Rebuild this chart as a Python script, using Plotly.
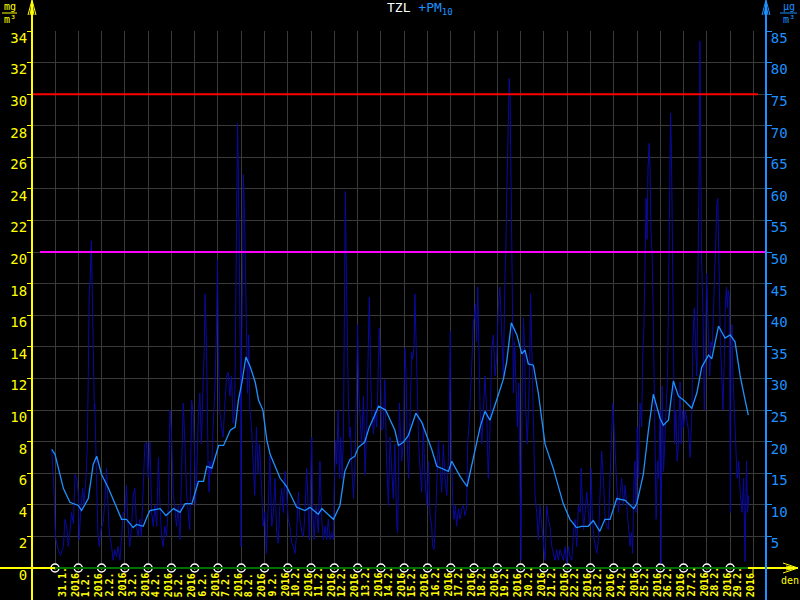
import plotly.graph_objects as go

# ---------------- data ----------------
# PM10 hourly-ish values (µg/m3), x = days since 31.1.2016 00:00
pm_days = [-0.14, -0.04, 0.0, 0.04, 0.14, 0.24, 0.36, 0.43, 0.5, 0.57, 0.64, 0.71, 0.79, 0.86, 0.93, 1.0, 1.04, 1.1, 1.19, 1.24, 1.33, 1.39, 1.43, 1.47, 1.51, 1.56, 1.6, 1.64, 1.69, 1.71, 1.75, 1.8, 1.84, 1.9, 1.97, 2.07, 2.14, 2.21, 2.26, 2.33, 2.43, 2.5, 2.57, 2.64, 2.71, 2.79, 2.86, 2.93, 3.0, 3.07, 3.14, 3.21, 3.29, 3.36, 3.43, 3.5, 3.57, 3.64, 3.71, 3.79, 3.86, 3.93, 4.0,
           4.08, 4.15, 4.22, 4.29, 4.37, 4.44, 4.51, 4.58, 4.65, 4.72, 4.79, 4.87, 4.94, 5.01, 5.08, 5.15, 5.22, 5.29, 5.37, 5.44, 5.51, 5.58, 5.65, 5.72, 5.79, 5.87, 5.94, 5.98, 6.04, 6.08, 6.15, 6.22, 6.29, 6.37, 6.41, 6.45, 6.51, 6.58, 6.62, 6.65, 6.72, 6.79, 6.87, 6.94, 6.98, 7.02, 7.08, 7.15, 7.22, 7.29, 7.37, 7.44, 7.51, 7.58, 7.65, 7.72, 7.77, 7.81, 7.84, 7.88, 7.91, 7.94, 7.97, 7.99, 8.02, 8.07, 8.09, 8.14, 8.18, 8.22, 8.27, 8.32, 8.37, 8.44, 8.51, 8.58, 8.65, 8.72, 8.79, 8.87, 8.94, 9.01, 9.08, 9.15,
           9.23, 9.31, 9.38, 9.45, 9.52, 9.59, 9.66, 9.74, 9.81, 9.88, 9.95, 10.02, 10.09, 10.17, 10.24, 10.31, 10.38, 10.45, 10.52, 10.6, 10.67, 10.74, 10.81, 10.88, 10.93, 10.98, 11.03, 11.07, 11.13, 11.21, 11.31, 11.38, 11.46, 11.53, 11.6, 11.67, 11.74, 11.81, 11.88, 11.96, 12.0, 12.06, 12.1, 12.16, 12.22, 12.27, 12.33, 12.39, 12.43, 12.47, 12.52, 12.56, 12.6, 12.65, 12.69, 12.74, 12.82, 12.89, 12.96, 13.0, 13.05, 13.1, 13.17, 13.25, 13.32, 13.39, 13.46, 13.5, 13.56, 13.6, 13.68, 13.75, 13.82, 13.89, 13.93, 13.99, 14.03, 14.1, 14.17, 14.24, 14.32,
           14.39, 14.46, 14.53, 14.6, 14.68, 14.72, 14.79, 14.85, 14.89, 14.96, 15.03, 15.08, 15.13, 15.19, 15.25, 15.32, 15.36, 15.42, 15.46, 15.51, 15.56, 15.62, 15.68, 15.75, 15.82, 15.89, 15.97, 16.04, 16.11, 16.18, 16.22, 16.28, 16.32, 16.4, 16.47, 16.54, 16.61, 16.68, 16.75, 16.83, 16.9, 16.94, 16.98, 17.03, 17.08, 17.14, 17.2, 17.25, 17.33, 17.4, 17.47, 17.54, 17.61, 17.68, 17.73, 17.78, 17.83, 17.9, 17.97, 18.01, 18.06, 18.11, 18.16, 18.2, 18.26, 18.33, 18.4, 18.47, 18.54, 18.61, 18.69, 18.76, 18.83, 18.9, 18.97, 19.04, 19.11, 19.19, 19.26, 19.33, 19.37, 19.4, 19.44, 19.49, 19.51,
           19.55, 19.6, 19.64, 19.69, 19.74, 19.8, 19.86, 19.92, 19.97, 20.02, 20.06, 20.12, 20.16, 20.22, 20.29, 20.38, 20.43, 20.48, 20.55, 20.62, 20.69, 20.76, 20.83, 20.91, 20.98, 21.05, 21.12, 21.19, 21.26, 21.34, 21.41, 21.48, 21.55, 21.62, 21.69, 21.77, 21.84, 21.91, 21.98, 22.05, 22.12, 22.2, 22.27, 22.34, 22.41, 22.48, 22.56, 22.6, 22.65, 22.7, 22.77, 22.84, 22.91, 22.98, 23.03, 23.08, 23.16, 23.21, 23.27, 23.34, 23.41, 23.48, 23.56, 23.63, 23.7, 23.77, 23.84, 23.91, 23.96, 24.01, 24.07, 24.13, 24.2, 24.27, 24.34, 24.42, 24.49, 24.56, 24.63,
           24.7, 24.77, 24.81, 24.87, 24.91, 24.96, 25.01, 25.06, 25.13, 25.2, 25.24, 25.3, 25.34, 25.39, 25.43, 25.47, 25.52, 25.56, 25.6, 25.65, 25.69, 25.73, 25.78, 25.82, 25.88, 25.93, 25.99, 26.03, 26.08, 26.14, 26.19, 26.25, 26.31, 26.35, 26.39, 26.44, 26.48, 26.52, 26.57, 26.61, 26.67, 26.72, 26.78, 26.85, 26.9, 26.95, 27.0, 27.07, 27.14, 27.21, 27.28, 27.36, 27.4, 27.46, 27.51, 27.57, 27.63, 27.67, 27.7, 27.73, 27.77, 27.83, 27.89, 27.95, 27.99, 28.03, 28.08, 28.12, 28.18, 28.23, 28.29, 28.35, 28.39, 28.43, 28.47, 28.52, 28.58, 28.64, 28.69, 28.75, 28.79, 28.84, 28.88, 28.92, 28.97, 29.01, 29.04, 29.08, 29.12, 29.18, 29.24, 29.3, 29.37, 29.44, 29.51, 29.58, 29.64, 29.7, 29.75, 29.8]
pm_vals = [18.8, 12, 6.6, 4.5, 2.9, 2.0, 3.4, 7.7, 6.6, 3.4, 5.6, 8.8, 7.0, 14.8, 14.2, 12, 4.5, 8.8, 12.6, 10, 14.2, 19.6, 30.4, 43.4, 45.6, 51.8, 44, 33, 25, 26, 18, 8.8, 5.6, 3.4, 6.1, 7.2, 10.4, 15.8, 10, 5.6, 3.4, 1.2, 2.9, 1.8, 3.4, 1.2, 5, 8.8, 8.8, 13.1, 6.6, 3.4, 6.6, 11.5, 12.6, 6.6, 5, 7.7, 5, 14.2, 19.6, 19.9, 14.2,
           19.9, 8.8, 6.6, 9.9, 6.6, 17.5, 9.9, 5, 3.4, 6.6, 5, 9.9, 25, 20.7, 12, 8.8, 6.6, 9.9, 4.5, 15.8, 26.1, 19.6, 12, 8.8, 6.1, 26.6, 24, 19.6, 9.9, 14.2, 23.4, 27.7, 19.6, 30.4, 34.2, 43.4, 34.8, 15.3, 12, 16.9, 14.8, 22.3, 28.3, 38.5, 48.8, 33, 25, 22.3, 20.7, 25.5, 30.4, 31, 27.2, 30.4, 22.9, 25, 46.6, 57.5, 70.4, 61.8, 52, 35.8, 30.4, 3.4, 35.8, 51, 62.3, 56.4, 46.6, 38.5, 27.7, 36.9, 25, 22.3, 16.9, 11.5, 22.3, 14.8, 19.6, 11, 6.6, 8.8, 2.3, 8.8,
           17.7, 6.6, 8.8, 14.2, 5.6, 3.9, 9.9, 12.6, 8.8, 15.3, 11, 7.7, 6.6, 3.9, 3.4, 2.3, 5.6, 12, 7.7, 5.6, 5, 8.8, 15.8, 8.8, 4.5, 14.2, 20.7, 8.8, 4.5, 9.9, 5.6, 16.9, 7.7, 4.5, 6.6, 4.5, 7.7, 4.5, 5.6, 4.5, 14.2, 20.2, 16.4, 25, 14.2, 20.7, 14.2, 20.7, 53.1, 59.6, 45.6, 30.4, 26.6, 20.7, 22.3, 16.9, 11, 16.4, 30.4, 38.5, 27.7, 25, 19.6, 27.2, 14.8, 22.3, 38.5, 42.9, 30.4, 25, 21.2, 25, 22.3, 34.8, 38, 30.4, 21.8, 22.3, 29.8, 17.5, 9.9,
           20.7, 15.8, 11, 19.6, 6.6, 5.6, 26.1, 20.2, 16.9, 19.6, 34.8, 30.4, 19.6, 14.2, 25, 34.2, 33.1, 34.8, 43.4, 35.8, 25, 19.6, 15.8, 12, 22.9, 14.2, 9.9, 16.9, 8.3, 6.6, 3.4, 2.9, 5.6, 14.2, 20.2, 15.8, 12, 19.6, 14.2, 11.5, 17.5, 25.6, 37.5, 19.6, 11, 7.7, 9.9, 6.6, 9.4, 7.7, 9.4, 9.9, 8.3, 9.4, 20.2, 22.3, 27.7, 32, 39, 39.6, 41.8, 35.8, 44.5, 35.8, 25, 19.6, 25, 30.4, 25, 14.2, 22.3, 34.8, 36.9, 30.4, 33.1, 41.2, 44.5, 35.8, 30.4, 46.6, 51, 58.5, 68.3, 73.7, 77.5,
           74, 58, 44.5, 27.7, 35.8, 30.4, 22.3, 29.3, 15.3, 1.2, 26.1, 39.6, 35.8, 25, 19.6, 30.4, 43.4, 34.8, 25, 11.5, 8.8, 4.5, 9.9, 6.6, 3.4, 1.2, 9.9, 7.7, 6.6, 3.4, 2.3, 1.2, 2.9, 1.2, 2.9, 1.8, 1.2, 3.4, 0.7, 3.4, 1.8, 1.2, 5.6, 7.7, 3.4, 9.9, 8.8, 15.8, 9.9, 6.1, 8.8, 12, 8.8, 6.6, 15.8, 7.7, 4.5, 3.4, 2.3, 4.5, 12, 18.5, 14.2, 7.7, 6.6, 6.1, 14.2, 20.7, 26.1, 22.3, 16.9, 13.1, 8.8, 11.5, 14.2, 9.9, 13.1, 9.9, 6.6,
           3.4, 5.6, 2.3, 14.2, 16.9, 8.8, 22.3, 14.2, 26.1, 22.3, 33.1, 38.5, 45.6, 58.5, 52, 63.1, 67.2, 63.1, 53.1, 49.4, 41.2, 30.4, 14.2, 7.7, 16.9, 14.2, 25, 0.7, 28.8, 15.3, 19.6, 25, 30.4, 41.2, 57.5, 72, 65.6, 52, 35.8, 19.6, 25, 16.9, 19.6, 29.4, 19.6, 25, 22.3, 25, 23.4, 21.8, 17.5, 25, 35.8, 41.2, 35.8, 30.4, 51, 62.9, 83.4, 69.9, 49.4, 41.2, 25, 35.8, 46.6, 41.2, 35.8, 30.4, 35.8, 34.8, 41.2, 49.9, 54.8, 57.5, 58.5, 46.6, 35.8, 30.4, 25, 33.1, 41.2, 44.5, 41.2, 43.9, 42.9, 8.8, 35.8, 38.5, 30.4, 25, 20.7, 14.2, 16.9, 11.5, 8.8, 14.2, 1.0, 16.9, 8.8, 11.5]

# 24h running mean of PM10 (µg/m3)
avg_days = [-0.14, 0.0, 0.36, 0.64, 1.0, 1.14, 1.43, 1.64, 1.79, 2.0, 2.3, 2.6, 2.86, 3.07, 3.36, 3.5, 3.79, 4.0,
            4.08, 4.51, 4.77, 5.09, 5.37, 5.59, 5.88, 6.16, 6.38, 6.52, 6.74, 7.03, 7.24, 7.53, 7.74, 7.88, 8.03, 8.2, 8.39, 8.6, 8.74, 8.93, 9.1,
            9.24, 9.45, 9.67, 9.95, 10.38, 10.74, 10.95, 11.31, 11.46, 11.96, 12.24, 12.45, 12.67, 12.88, 13.03, 13.3, 13.5, 13.7, 13.9, 14.2,
            14.39, 14.6, 14.75, 14.96, 15.18, 15.5, 15.75, 15.97, 16.18, 16.4, 16.68, 16.9, 17.04, 17.4, 17.7, 17.97, 18.26, 18.47, 18.68, 18.97, 19.26, 19.4, 19.6,
            19.84, 20.05, 20.19, 20.33, 20.55, 20.76, 21.05, 21.4, 21.83, 22.12, 22.4, 22.62, 22.9, 23.12, 23.4, 23.62, 23.84, 24.13, 24.49, 24.78,
            24.86, 24.99, 25.27, 25.49, 25.7, 25.99, 26.13, 26.35, 26.56, 26.78, 27.06, 27.35, 27.57, 27.78, 28.07, 28.21, 28.5, 28.78, 29.0, 29.21, 29.43, 29.64, 29.78]
avg_vals = [18.8, 18.0, 12.6, 10.4, 9.9, 9.1, 11.0, 16.4, 17.7, 14.8, 12.6, 9.9, 7.7, 7.7, 6.4, 6.9, 6.6, 8.5,
            9.1, 9.4, 8.3, 9.4, 8.8, 10.2, 10.2, 13.7, 13.7, 16.1, 15.8, 19.4, 19.4, 21.8, 22.3, 26.6, 29.4, 33.4, 31.8, 29.4, 26.6, 25.0, 20.2,
            18.0, 16.1, 14.2, 12.9, 9.6, 9.1, 9.6, 8.5, 9.4, 7.7, 9.9, 15.3, 17.2, 17.7, 19.1, 19.9, 22.3, 23.9, 25.6, 25.0,
            23.4, 21.8, 19.4, 19.9, 21.0, 24.5, 23.1, 21.0, 18.8, 16.1, 15.6, 15.3, 16.9, 14.5, 12.9, 17.5, 22.3, 24.8, 23.4, 26.6, 29.9, 32.6, 38.8,
            36.9, 33.9, 34.5, 32.3, 32.1, 27.7, 19.6, 15.8, 10.2, 7.7, 6.4, 6.6, 6.6, 7.5, 5.8, 7.7, 7.7, 11.0, 10.7, 9.6,
            9.4, 10.2, 14.8, 21.8, 27.5, 23.7, 22.6, 23.4, 29.6, 27.2, 26.4, 25.3, 27.7, 31.8, 33.7, 33.1, 38.3, 36.4, 36.9, 35.8, 30.4, 26.6, 24.2]

tick_days = [0, 1, 2, 3, 4, 5, 6, 7, 8, 9, 10, 11, 12, 13, 14, 15, 16, 17, 18, 19, 20, 21, 22, 23, 24, 25, 26, 27, 28, 29]
tick_labels = ["31.1.", "1.2.", "2.2.", "3.2.", "4.2.", "5.2.", "6.2.", "7.2.", "8.2.", "9.2.",
               "10.2.", "11.2.", "12.2.", "13.2.", "14.2.", "15.2.", "16.2.", "17.2.", "18.2.", "19.2.",
               "20.2.", "21.2.", "22.2.", "23.2.", "24.2.", "25.2.", "26.2.", "27.2.", "28.2.", "29.2."]
tick_year = "2016"
limit_tzl_red = 30      # mg/m3
limit_tzl_magenta = 20  # mg/m3

# ---------------- style ----------------
FONT = "DejaVu Sans Mono"
YEL = "#ffff00"
BLUE = "#1e90ff"
GRID = "#3a3a3a"
L, R, T, B = 32, 34, 31, 32
PW, PH = 800 - L - R, 600 - T - B


def px(x):
    return (x - L) / PW


def py(y):
    return (600 - B - y) / PH


fig = go.Figure()
fig.add_trace(go.Scatter(x=pm_days, y=pm_vals, yaxis="y2", mode="lines",
                         line=dict(color="#0a0aa0", width=1), hoverinfo="skip"))
fig.add_trace(go.Scatter(x=avg_days, y=avg_vals, yaxis="y2", mode="lines",
                         line=dict(color=BLUE, width=1.3), hoverinfo="skip"))

shapes = []
# limit lines
shapes.append(dict(type="line", xref="paper", yref="y", x0=px(32), x1=px(758),
                   y0=limit_tzl_red, y1=limit_tzl_red, line=dict(color="#ff0000", width=2), layer="above"))
shapes.append(dict(type="line", xref="paper", yref="y", x0=px(40), x1=px(766),
                   y0=limit_tzl_magenta, y1=limit_tzl_magenta, line=dict(color="#ff00ff", width=2), layer="above"))
# bottom axis line (yellow) + green segment
shapes.append(dict(type="line", xref="paper", yref="paper", x0=px(0), x1=px(797), y0=py(568), y1=py(568),
                   line=dict(color=YEL, width=2), layer="above"))
shapes.append(dict(type="line", xref="paper", yref="paper", x0=px(55), x1=px(748), y0=py(568), y1=py(568),
                   line=dict(color="#007000", width=2), layer="above"))
shapes.append(dict(type="line", xref="paper", yref="paper", x0=px(753), x1=px(753), y0=py(568), y1=py(574),
                   line=dict(color=YEL, width=1), layer="above"))
# x arrow
shapes.append(dict(type="path", xref="paper", yref="paper",
                   path=f"M {px(783)},{py(563)} L {px(798)},{py(568)} L {px(783)},{py(573)} M {px(786)},{py(566)} L {px(798)},{py(568)} L {px(786)},{py(570)}",
                   line=dict(color=YEL, width=1), layer="above"))
# left axis (yellow)
shapes.append(dict(type="line", xref="paper", yref="paper", x0=px(32), x1=px(32), y0=py(1), y1=py(600),
                   line=dict(color=YEL, width=2), layer="above"))
shapes.append(dict(type="path", xref="paper", yref="paper",
                   path=f"M {px(28)},{py(15)} L {px(32)},{py(0)} L {px(36)},{py(15)} M {px(30)},{py(15)} L {px(32)},{py(4)} L {px(34)},{py(15)}",
                   line=dict(color=YEL, width=1), layer="above"))
# right axis (blue)
shapes.append(dict(type="line", xref="paper", yref="paper", x0=px(766), x1=px(766), y0=py(1), y1=py(600),
                   line=dict(color=BLUE, width=2), layer="above"))
shapes.append(dict(type="path", xref="paper", yref="paper",
                   path=f"M {px(762)},{py(15)} L {px(766)},{py(0)} L {px(770)},{py(15)} M {px(764)},{py(15)} L {px(766)},{py(4)} L {px(768)},{py(15)}",
                   line=dict(color=BLUE, width=1), layer="above"))
# unit fraction bars
shapes.append(dict(type="line", xref="paper", yref="paper", x0=px(2), x1=px(17), y0=py(13), y1=py(13),
                   line=dict(color=YEL, width=1), layer="above"))
shapes.append(dict(type="line", xref="paper", yref="paper", x0=px(780), x1=px(797), y0=py(13), y1=py(13),
                   line=dict(color=BLUE, width=1), layer="above"))

ann = []
ann.append(dict(xref="paper", yref="paper", x=px(420), y=py(9), xanchor="center", yanchor="middle", showarrow=False,
                text=f"<span style='color:#ffffff'>TZL</span> <span style='color:{BLUE}'>+PM<sub>10</sub></span>",
                font=dict(family=FONT, size=13)))
for d, lab in zip(tick_days, tick_labels):
    ann.append(dict(xref="x", yref="paper", x=d, y=py(599), xshift=14, xanchor="center", yanchor="bottom",
                    showarrow=False, textangle=-90, align="left", text=f"{lab}<br>{tick_year}",
                    font=dict(family=FONT, size=10, color=YEL, weight="bold")))
ann.append(dict(xref="paper", yref="paper", x=px(790), y=py(580), xanchor="center", yanchor="middle", showarrow=False,
                text="den", font=dict(family=FONT, size=10, color=YEL)))
unit_specs = [("mg", 10, 6, YEL), ("m³", 10, 20, YEL), ("µg", 789, 6, BLUE), ("m³", 789, 20, BLUE)]
for txt, ux, uy, col in unit_specs:
    ann.append(dict(xref="paper", yref="paper", x=px(ux), y=py(uy), xanchor="center", yanchor="middle",
                    showarrow=False, text=txt, font=dict(family=FONT, size=10, color=col)))

# day markers on baseline
fig.add_trace(go.Scatter(x=tick_days, y=[0] * len(tick_days), mode="markers", cliponaxis=False,
                         marker=dict(symbol="circle", size=8, color="#000000", line=dict(color="#ffffff", width=1.5)),
                         hoverinfo="skip"))
fig.add_trace(go.Scatter(x=tick_days, y=[0] * len(tick_days), mode="markers", cliponaxis=False,
                         marker=dict(symbol="triangle-down", size=4, color="#c8c800"), hoverinfo="skip"))

fig.update_layout(
    width=800, height=600, showlegend=False,
    paper_bgcolor="#000000", plot_bgcolor="#000000",
    margin=dict(l=L, r=R, t=T, b=B, pad=0, autoexpand=False),
    xaxis=dict(range=[-0.988, 30.54], tickvals=list(range(31)), showticklabels=False, ticks="",
               showgrid=True, gridcolor=GRID, gridwidth=1, zeroline=False, showline=False, automargin=False),
    yaxis=dict(range=[0, 34], tick0=0, dtick=2, showgrid=True, gridcolor=GRID, gridwidth=1, zeroline=False,
               showline=False, ticks="outside", ticklen=4, tickcolor=YEL, tickwidth=1, automargin=False,
               tickfont=dict(family=FONT, size=14, color=YEL), ticklabelshift=7, ticklabelstandoff=-3),
    yaxis2=dict(range=[0, 85], overlaying="y", side="right", tickvals=list(range(5, 86, 5)), automargin=False,
                showgrid=False, zeroline=False, showline=False, ticks="outside", ticklen=5, tickcolor=BLUE,
                tickwidth=1, tickfont=dict(family=FONT, size=14, color=BLUE), ticklabelshift=7,
                ticklabelstandoff=-4),
    shapes=shapes, annotations=ann,
)
fig.write_html("out.html", config={"displayModeBar": False},
               post_script="document.body.style.margin='0';document.body.style.padding='0';document.body.style.overflow='hidden';document.body.style.background='#000';")
